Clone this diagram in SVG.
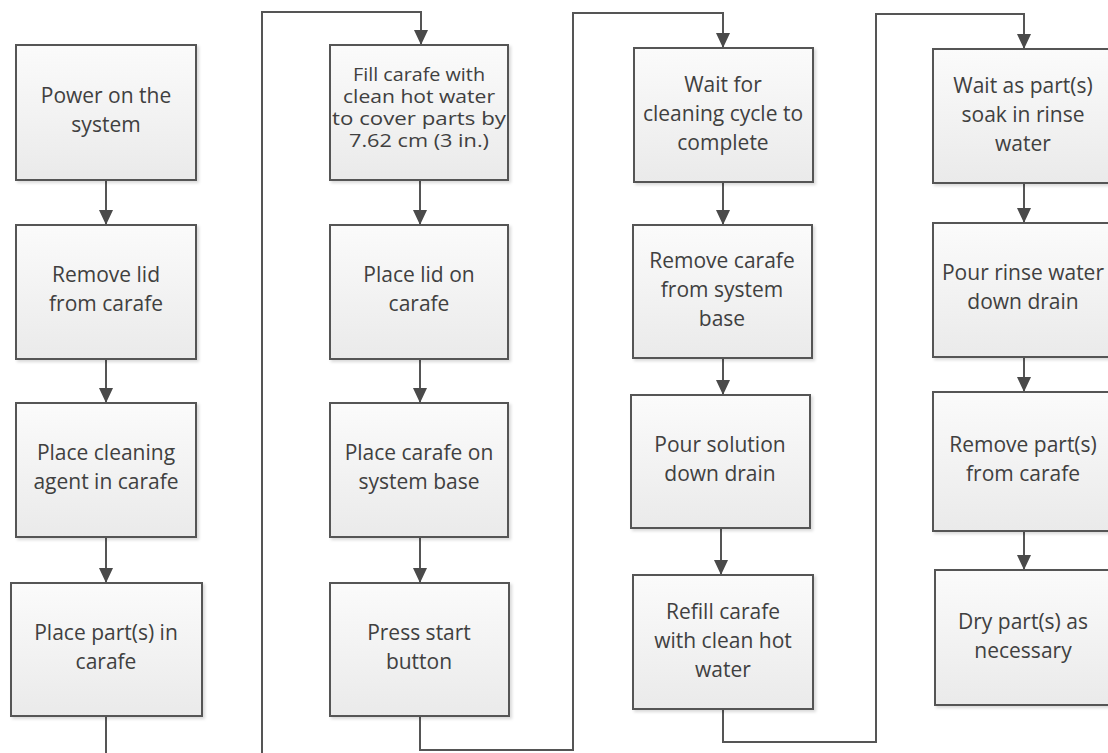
<svg xmlns="http://www.w3.org/2000/svg" width="1108" height="753" viewBox="0 0 1108 753">
<style>
.box{fill:url(#g);stroke:#555;stroke-width:2;filter:url(#sh)}
.t{font-family:"Open Sans","Liberation Sans",sans-serif;font-size:21px;fill:#404040;text-anchor:middle}
.s{font-size:18px}
.c{fill:none;stroke:#555;stroke-width:2}
</style>
<defs>
<linearGradient id="g" x1="0" y1="0" x2="0" y2="1">
<stop offset="0" stop-color="#fbfbfb"/>
<stop offset="1" stop-color="#eaeaea"/>
</linearGradient>
<filter id="sh" x="-5%" y="-5%" width="115%" height="115%">
<feDropShadow dx="2" dy="2" stdDeviation="1.5" flood-color="#000" flood-opacity="0.15"/>
</filter>
<marker id="a" viewBox="0 0 15 14" markerUnits="userSpaceOnUse" markerWidth="15" markerHeight="14" refX="15" refY="7" orient="auto">
<path d="M0,0 L15,7 L0,14 z" fill="#4a4a4a"/>
</marker>
</defs>
<rect width="1108" height="753" fill="#fff"/>
<g id="connectors">
<path class="c" d="M106,180 V225" marker-end="url(#a)"/>
<path class="c" d="M106,359 V403" marker-end="url(#a)"/>
<path class="c" d="M106,537 V583" marker-end="url(#a)"/>
<path class="c" d="M106,716 V770 H262 V12 H421 V45" marker-end="url(#a)"/>
<path class="c" d="M420,180 V225" marker-end="url(#a)"/>
<path class="c" d="M420,359 V403" marker-end="url(#a)"/>
<path class="c" d="M420,537 V583" marker-end="url(#a)"/>
<path class="c" d="M420,716 V750 H573 V13 H723 V48" marker-end="url(#a)"/>
<path class="c" d="M723,182 V225" marker-end="url(#a)"/>
<path class="c" d="M723,358 V395" marker-end="url(#a)"/>
<path class="c" d="M721,528 V575" marker-end="url(#a)"/>
<path class="c" d="M723,709 V742 H876 V14 H1024 V49" marker-end="url(#a)"/>
<path class="c" d="M1024,183 V223" marker-end="url(#a)"/>
<path class="c" d="M1024,357 V392" marker-end="url(#a)"/>
<path class="c" d="M1024,531 V570" marker-end="url(#a)"/>
</g>
<g id="n1"><rect class="box" x="16" y="45" width="180" height="135"/>
<text class="t" x="106" y="103">Power on the</text><text class="t" x="106" y="132">system</text></g>
<g id="n2"><rect class="box" x="16" y="225" width="180" height="134"/>
<text class="t" x="106" y="282">Remove lid</text><text class="t" x="106" y="311">from carafe</text></g>
<g id="n3"><rect class="box" x="16" y="403" width="180" height="134"/>
<text class="t" x="106" y="460">Place cleaning</text><text class="t" x="106" y="489">agent in carafe</text></g>
<g id="n4"><rect class="box" x="11" y="583" width="191" height="133"/>
<text class="t" x="106" y="640">Place part(s) in</text><text class="t" x="106" y="669">carafe</text></g>
<g id="n5"><rect class="box" x="330" y="45" width="178" height="135"/>
<text class="t s" x="419" y="81" textLength="132" lengthAdjust="spacingAndGlyphs">Fill carafe with</text>
<text class="t s" x="419" y="103" textLength="152" lengthAdjust="spacingAndGlyphs">clean hot water</text>
<text class="t s" x="419" y="125" textLength="174" lengthAdjust="spacingAndGlyphs">to cover parts by</text>
<text class="t s" x="419" y="147" textLength="140" lengthAdjust="spacingAndGlyphs">7.62 cm (3 in.)</text></g>
<g id="n6"><rect class="box" x="330" y="225" width="178" height="134"/>
<text class="t" x="419" y="282">Place lid on</text><text class="t" x="419" y="311">carafe</text></g>
<g id="n7"><rect class="box" x="330" y="403" width="178" height="134"/>
<text class="t" x="419" y="460">Place carafe on</text><text class="t" x="419" y="489">system base</text></g>
<g id="n8"><rect class="box" x="330" y="583" width="179" height="133"/>
<text class="t" x="419" y="640">Press start</text><text class="t" x="419" y="669">button</text></g>
<g id="n9"><rect class="box" x="634" y="48" width="179" height="134"/>
<text class="t" x="723" y="92">Wait for</text><text class="t" x="723" y="121">cleaning cycle to</text><text class="t" x="723" y="150">complete</text></g>
<g id="n10"><rect class="box" x="633" y="225" width="179" height="133"/>
<text class="t" x="722" y="268">Remove carafe</text><text class="t" x="722" y="297">from system</text><text class="t" x="722" y="326">base</text></g>
<g id="n11"><rect class="box" x="631" y="395" width="179" height="133"/>
<text class="t" x="720" y="452">Pour solution</text><text class="t" x="720" y="481">down drain</text></g>
<g id="n12"><rect class="box" x="633" y="575" width="180" height="134"/>
<text class="t" x="723" y="619">Refill carafe</text><text class="t" x="723" y="648">with clean hot</text><text class="t" x="723" y="677">water</text></g>
<g id="n13"><rect class="box" x="933" y="49" width="182" height="134"/>
<text class="t" x="1023" y="93">Wait as part(s)</text><text class="t" x="1023" y="122">soak in rinse</text><text class="t" x="1023" y="151">water</text></g>
<g id="n14"><rect class="box" x="933" y="223" width="182" height="134"/>
<text class="t" x="1023" y="280">Pour rinse water</text><text class="t" x="1023" y="309">down drain</text></g>
<g id="n15"><rect class="box" x="933" y="392" width="182" height="139"/>
<text class="t" x="1023" y="452">Remove part(s)</text><text class="t" x="1023" y="481">from carafe</text></g>
<g id="n16"><rect class="box" x="935" y="570" width="180" height="135"/>
<text class="t" x="1023" y="629">Dry part(s) as</text><text class="t" x="1023" y="658">necessary</text></g>
</svg>
